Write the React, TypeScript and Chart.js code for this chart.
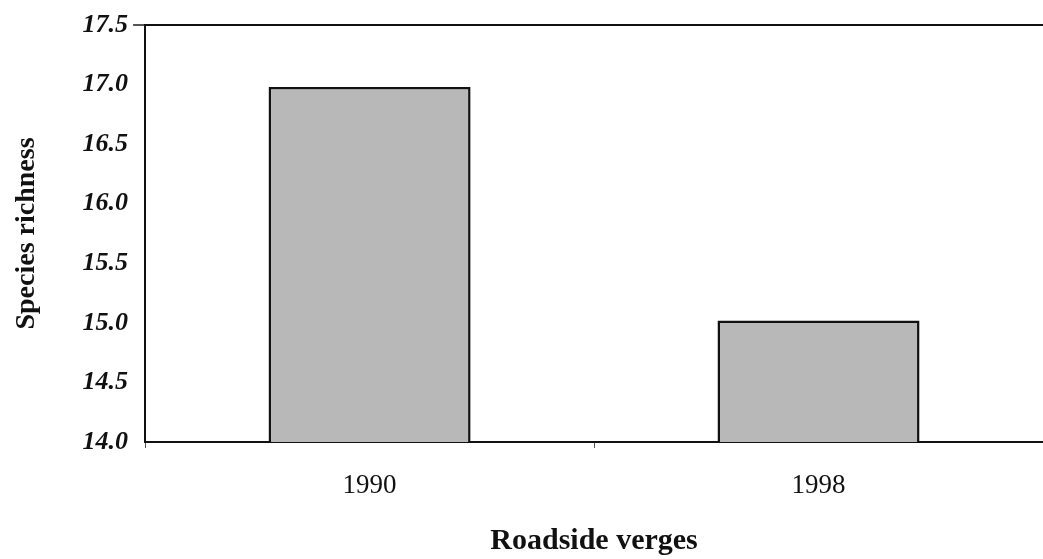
import React, { useEffect, useRef } from "react";
import { Chart, registerables } from "chart.js";

Chart.register(...registerables);

const categories = ["1990", "1998"];
const speciesRichness = [16.98, 15.02];
const yTicks = [14.0, 14.5, 15.0, 15.5, 16.0, 16.5, 17.0, 17.5];

const FONT = "'Liberation Serif', 'Times New Roman', serif";

export default function App() {
  const ref = useRef<HTMLCanvasElement | null>(null);

  useEffect(() => {
    document.body.style.margin = "0";
    if (!ref.current) return;
    const chart = new Chart(ref.current, {
      type: "bar",
      data: {
        labels: categories,
        datasets: [
          {
            label: "Species richness",
            data: speciesRichness,
            backgroundColor: "#b8b8b8",
            borderColor: "#111111",
            borderWidth: 2.5,
            borderSkipped: "bottom",
            barPercentage: 0.45,
            categoryPercentage: 1,
          },
        ],
      },
      options: {
        animation: false,
        responsive: false,
        maintainAspectRatio: false,
        layout: { padding: { top: 25, right: 0, bottom: 0, left: 10 } },
        plugins: {
          legend: { display: false },
          tooltip: { enabled: false },
        },
        scales: {
          x: {
            offset: true,
            border: { display: true, color: "#111", width: 2 },
            grid: {
              display: true,
              drawOnChartArea: false,
              drawTicks: true,
              tickLength: 6,
              color: "#555",
              offset: true,
            },
            ticks: {
              color: "#111",
              font: { family: FONT, size: 27, lineHeight: 0.85 },
              padding: 26,
            },
            title: {
              display: true,
              text: "Roadside verges",
              color: "#111",
              font: { family: FONT, size: 30, weight: "bold" },
              padding: { top: 0, bottom: 0 },
            },
          },
          y: {
            min: 14,
            max: 17.5,
            afterBuildTicks: (axis: any) => {
              axis.ticks = yTicks.map((v) => ({ value: v }));
            },
            border: { display: true, color: "#111", width: 2 },
            grid: {
              drawOnChartArea: true,
              drawTicks: true,
              tickLength: 12,
              tickColor: "#555",
              lineWidth: (ctx: any) => (ctx.tick && ctx.tick.value === 17.5 ? 2 : 0),
              color: (ctx: any) =>
                ctx.tick && ctx.tick.value === 17.5 ? "#111" : "rgba(0,0,0,0)",
            },
            ticks: {
              color: "#111",
              font: { family: FONT, size: 26, style: "italic", weight: "bold" },
              padding: 5,
              callback: (v: any) => Number(v).toFixed(1),
            },
            title: {
              display: true,
              text: "Species richness",
              color: "#111",
              font: { family: FONT, size: 28, weight: "bold" },
              padding: { top: 0, bottom: 34 },
            },
          },
        },
      },
    });
    return () => chart.destroy();
  }, []);

  return (
    <div style={{ width: 1043, height: 559, background: "#fff" }}>
      <canvas ref={ref} width={1043} height={559} />
    </div>
  );
}
